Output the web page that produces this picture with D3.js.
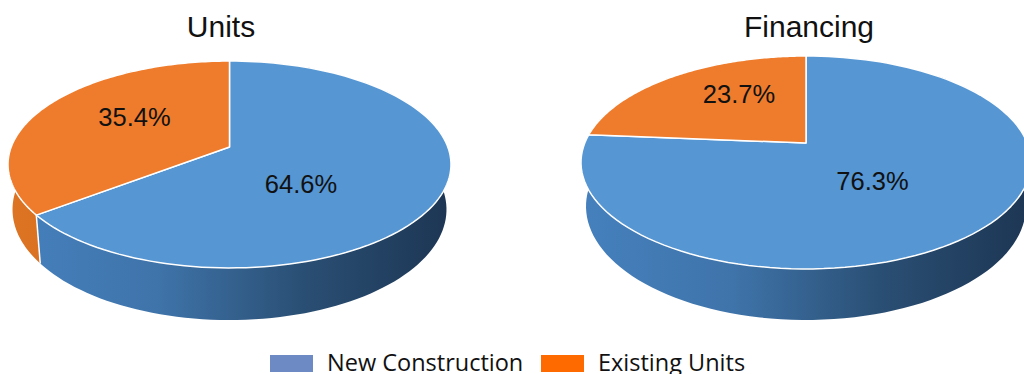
<!DOCTYPE html>
<html>
<head>
<meta charset="utf-8">
<script src="https://cdn.jsdelivr.net/npm/d3@7"></script>
<style>
  html, body { margin: 0; background: #fff; overflow: hidden; }
  text { font-family: "Liberation Sans", sans-serif; fill: #111; }
  .legend text { font-family: "Open Sans", sans-serif; }
</style>
</head>
<body>
<div id="chart"></div>
<script>
const categories = ["New Construction", "Existing Units"];
const chartTitles = ["Units", "Financing"];
const unitsShare = [64.6, 35.4];
const financingShare = [76.3, 23.7];

const topColor = ["#5596d3", "#ee7c2c"];
const legendColor = ["#6d8ac4", "#ff6a00"];
const wallColor = [
  ["#4580bd", "#3f74aa", "#2a4f74", "#1d3654"],
  ["#dd7423", "#d06a1c", "#c05f18", "#a85214"],
];

// disc geometry, fitted to the picture: apex, half axes and perspective,
// then the ellipse of the top rim and of the bottom rim
const charts = [
  {
    title: chartTitles[0], values: unitsShare, titleX: 221,
    cx: 229.5, cy: 147, a: 218.3, b: 100.5, k: 0.169,
    topY: 164.5, topRx: 221.5, topRy: 103.5, botY: 209.5, botRx: 217, botRy: 110.6,
    labels: [[301, 184], [134.5, 117]],
  },
  {
    title: chartTitles[1], values: financingShare, titleX: 809,
    cx: 806, cy: 143, a: 221.2, b: 102.9, k: 0.183,
    topY: 162.5, topRx: 225, topRy: 106.5, botY: 206.3, botRx: 220, botRy: 113.7,
    labels: [[872.5, 181], [739, 94]],
  },
];

const svg = d3.select("#chart").append("svg").attr("width", 1024).attr("height", 374);
const defs = svg.append("defs");

const pie = d3.pie().sort(null);

const angles = (s) => d3.range(0, 121).map((i) => s.startAngle + ((s.endAngle - s.startAngle) * i) / 120);

charts.forEach((c, ci) => {
  const top = (t) => {
    const w = 1 + c.k * Math.cos(t);
    return [c.cx + (c.a * Math.sin(t)) / w, c.cy - (c.b * Math.cos(t)) / w];
  };
  const bottom = (t) => {
    const p = top(t);
    return [
      c.cx + ((p[0] - c.cx) * c.botRx) / c.topRx,
      c.botY + ((p[1] - c.topY) * c.botRy) / c.topRy,
    ];
  };

  const g = svg.append("g");
  const slices = pie(c.values);

  slices.forEach((s, i) => {
    const grad = defs.append("linearGradient").attr("id", `wall-${ci}-${i}`)
      .attr("gradientUnits", "userSpaceOnUse")
      .attr("x1", c.cx - c.a).attr("x2", c.cx + c.a).attr("y1", 0).attr("y2", 0);
    wallColor[i].forEach((col, j) => grad.append("stop").attr("offset", j / 3).attr("stop-color", col));
  });

  const wallPoly = (s) => {
    const t = angles(s);
    return d3.line()(t.map(top).concat(t.slice().reverse().map(bottom)));
  };

  g.selectAll("path.wall").data(slices).join("path")
    .attr("class", "wall")
    .attr("d", wallPoly)
    .attr("fill", (d, i) => `url(#wall-${ci}-${i})`);

  // white seam where the two slices meet on the side
  g.selectAll("path.seam").data(slices).join("path")
    .attr("class", "seam")
    .attr("d", (d) => d3.line()([top(d.startAngle), bottom(d.startAngle)]))
    .attr("stroke", "#fff").attr("stroke-width", 1.5).attr("fill", "none");

  g.selectAll("path.face").data(slices).join("path")
    .attr("class", "face")
    .attr("d", (d) => d3.line()([[c.cx, c.cy]].concat(angles(d).map(top))) + "Z")
    .attr("fill", (d, i) => topColor[i])
    .attr("stroke", "#fff").attr("stroke-width", 1.5).attr("stroke-linejoin", "round");

  g.selectAll("text.pct").data(slices).join("text")
    .attr("class", "pct")
    .attr("x", (d, i) => c.labels[i][0])
    .attr("y", (d, i) => c.labels[i][1])
    .attr("dy", "0.36em")
    .attr("text-anchor", "middle")
    .attr("font-size", 25.5)
    .text((d) => d.value.toFixed(1) + "%");

  svg.append("text")
    .attr("x", c.titleX).attr("y", 36.5)
    .attr("text-anchor", "middle")
    .attr("font-size", 30)
    .text(c.title);
});

const legend = svg.append("g").attr("class", "legend");
const legendX = d3.scaleOrdinal().domain(categories).range([270, 541]);
categories.forEach((name, i) => {
  legend.append("rect")
    .attr("x", legendX(name)).attr("y", 355)
    .attr("width", 43).attr("height", 17)
    .attr("fill", legendColor[i]);
  legend.append("text")
    .attr("x", legendX(name) + 57).attr("y", 371)
    .attr("font-size", 23.5)
    .text(name);
});
</script>
</body>
</html>
